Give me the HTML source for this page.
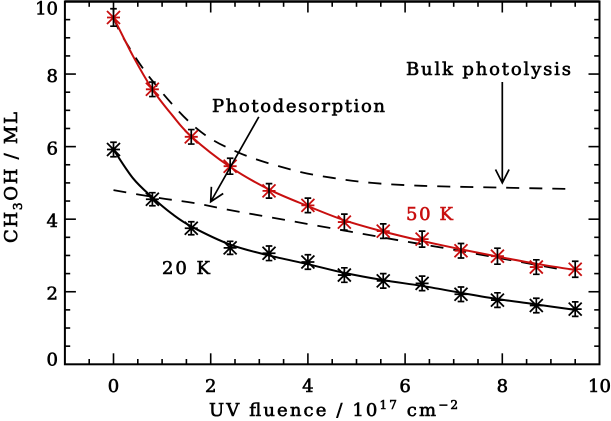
<!DOCTYPE html>
<html lang="en">
<head>
<meta charset="utf-8">
<title>CH3OH vs UV fluence</title>
<style>
html,body{margin:0;padding:0;background:#fff;width:611px;height:421px;overflow:hidden}
svg{display:block}
text{font-family:"DejaVu Serif","Liberation Serif",serif;fill:#000;stroke:#000;stroke-width:.6px}
</style>
</head>
<body>
<svg id="chart" xmlns="http://www.w3.org/2000/svg" width="611" height="421" viewBox="0 0 611 421">
<g id="layer-grid"></g>
<g id="layer-lines"></g>
<g id="layer-text"></g>
</svg>
<script>
const xTickLabels = [0, 2, 4, 6, 8, 10];
const yTickLabels = [0, 2, 4, 6, 8, 10];
const fluence = [0, 0.8, 1.6, 2.4, 3.2, 4, 4.75, 5.55, 6.35, 7.15, 7.9, 8.7, 9.5];
const methanol50K = [9.56, 7.58, 6.27, 5.46, 4.78, 4.38, 3.92, 3.67, 3.45, 3.13, 2.98, 2.68, 2.62];
const methanol20K = [5.92, 4.55, 3.75, 3.21, 3.06, 2.82, 2.46, 2.3, 2.23, 1.93, 1.77, 1.62, 1.52];
const error50K = [0.24, 0.2, 0.2, 0.22, 0.2, 0.2, 0.22, 0.2, 0.22, 0.2, 0.22, 0.2, 0.22];
const error20K = [0.2, 0.18, 0.18, 0.18, 0.2, 0.2, 0.2, 0.2, 0.2, 0.2, 0.2, 0.2, 0.2];
const fitFluence = [0, 0.4, 0.8, 1.2, 1.6, 2.4, 3.2, 4, 4.75, 5.55, 6.35, 7.15, 7.9, 8.7, 9.5];
const fit50K = [9.56, 8.5, 7.58, 6.88, 6.28, 5.44, 4.82, 4.36, 3.97, 3.66, 3.4, 3.17, 2.97, 2.77, 2.6];
const fit20K = [5.92, 5.13, 4.6, 4.15, 3.8, 3.3, 3.0, 2.76, 2.52, 2.32, 2.16, 1.97, 1.8, 1.65, 1.5];
const bulkX = [0, 0.2, 0.79, 1.71, 2.6, 3.7, 4.5, 5.32, 6.34, 7.99, 9.5];
const bulkY = [9.56, 9.0, 7.83, 6.5, 5.82, 5.35, 5.14, 5.0, 4.92, 4.87, 4.83];
const desorbX = [0, 0.96, 1.64, 2.4, 3.57, 4.9, 5.86, 6.82, 8.05, 9.15];
const desorbY = [4.8, 4.58, 4.45, 4.25, 3.97, 3.65, 3.42, 3.2, 2.9, 2.63];

const NS = 'http://www.w3.org/2000/svg';
const X0 = 113.5, XU = 48.6, Y0 = 364.3, YU = 36.28;
const sx = v => X0 + XU * v;
const sy = v => Y0 - YU * v;
const grid = document.getElementById('layer-grid');
const lines = document.getElementById('layer-lines');
const texts = document.getElementById('layer-text');

function mk(tag, parent, attrs) {
  const el = document.createElementNS(NS, tag);
  for (const k in attrs) el.setAttribute(k, attrs[k]);
  parent.appendChild(el);
  return el;
}
function smooth(xs, ys) {
  const p = xs.map((x, i) => [sx(x), sy(ys[i])]);
  let d = 'M' + p[0][0] + ' ' + p[0][1];
  for (let i = 0; i < p.length - 1; i++) {
    const a = p[Math.max(i - 1, 0)], b = p[i], c = p[i + 1], e = p[Math.min(i + 2, p.length - 1)];
    d += ' C' + (b[0] + (c[0] - a[0]) / 6) + ' ' + (b[1] + (c[1] - a[1]) / 6) + ' ' +
      (c[0] - (e[0] - b[0]) / 6) + ' ' + (c[1] - (e[1] - b[1]) / 6) + ' ' + c[0] + ' ' + c[1];
  }
  return d;
}

/* frame */
const frame = mk('rect', grid, {x: sx(-1), y: sy(10), width: XU * 11, height: YU * 10, fill: 'none', stroke: '#000', 'stroke-width': 2});


const frameTop = mk('line', grid, {x1: sx(-1), x2: sx(10), y1: sy(10), y2: sy(10), stroke: '#000', 'stroke-width': 2.4});



/* ticks */
for (let i = -2; i <= 20; i++) {
  const v = i / 2, len = i % 4 === 0 ? 11 : 5.3, w = 1.6;
  if (v > -1 && v < 10) {
    const b = mk('line', grid, {x1: sx(v), x2: sx(v), y1: Y0, y2: Y0 - len, stroke: '#000', 'stroke-width': w});
    
    
    const t = mk('line', grid, {x1: sx(v), x2: sx(v), y1: sy(10), y2: sy(10) + len, stroke: '#000', 'stroke-width': w});
    
    
  }
}
for (let i = 1; i <= 19; i++) {
  const v = i / 2, len = i % 4 === 0 ? 11 : 5.3, w = 1.6;
  const l = mk('line', grid, {x1: sx(-1), x2: sx(-1) + len, y1: sy(v), y2: sy(v), stroke: '#000', 'stroke-width': w});
  
  
  const r = mk('line', grid, {x1: sx(10), x2: sx(10) - len, y1: sy(v), y2: sy(v), stroke: '#000', 'stroke-width': w});
  
  
}
xTickLabels.forEach(v => {
  const t = mk('text', texts, {x: sx(v), y: 392, 'text-anchor': 'middle', 'font-size': 18});
  t.textContent = v;
  
  
});
yTickLabels.forEach((v, i) => {
  const off = i === 0 ? 1 : (i === yTickLabels.length - 1 ? 13 : 8);
  const t = mk('text', texts, {x: 58, y: sy(v) + off, 'text-anchor': 'end', 'font-size': 18});
  t.textContent = v;
  
  
});

/* dashed guides */
const bulkLine = mk('path', lines, {d: smooth(bulkX, bulkY), fill: 'none', stroke: '#000', 'stroke-width': 1.8, 'stroke-dasharray': '13 10'});


const desorbLine = mk('path', lines, {d: smooth(desorbX, desorbY), fill: 'none', stroke: '#000', 'stroke-width': 1.8, 'stroke-dasharray': '13 10'});



/* series */
function drawSeries(name, color, fitY, values, errs) {
  const fit = mk('path', lines, {d: smooth(fitFluence, fitY), fill: 'none', stroke: color, 'stroke-width': 2});
  
  
  fluence.forEach((x, i) => {
    const px = sx(x), py = sy(values[i]), top = sy(values[i] + errs[i]), bot = sy(values[i] - errs[i]);
    const g = mk('g', lines, {});
    
    
    const r = 6.5, dy = 6.5;
    mk('path', g, {d: 'M' + (px - r) + ' ' + py + 'H' + (px + r) +
      'M' + (px - r) + ' ' + (py - dy) + 'L' + (px + r) + ' ' + (py + dy) +
      'M' + (px - r) + ' ' + (py + dy) + 'L' + (px + r) + ' ' + (py - dy),
      fill: 'none', stroke: color, 'stroke-width': 1.8});
    mk('path', g, {d: 'M' + px + ' ' + top + 'V' + bot +
      'M' + (px - 3.3) + ' ' + top + 'H' + (px + 3.3) +
      'M' + (px - 3.3) + ' ' + bot + 'H' + (px + 3.3),
      fill: 'none', stroke: '#000', 'stroke-width': 1.7});
  });
}
drawSeries('series-20k', '#000', fit20K, methanol20K, error20K);
drawSeries('series-50k', '#c80f0f', fit50K, methanol50K, error50K);

/* arrows */
function arrow(name, x1, y1, x2, y2) {
  const a = Math.atan2(y2 - y1, x2 - x1), h = 15, s = 0.47;
  const p = mk('path', lines, {d: 'M' + x1 + ' ' + y1 + 'L' + x2 + ' ' + y2 +
    'M' + (x2 - h * Math.cos(a - s)) + ' ' + (y2 - h * Math.sin(a - s)) + 'L' + x2 + ' ' + y2 +
    'L' + (x2 - h * Math.cos(a + s)) + ' ' + (y2 - h * Math.sin(a + s)),
    fill: 'none', stroke: '#000', 'stroke-width': 1.7});
  
  
}
arrow('photodesorption-arrow', sx(2.99), sy(6.82), sx(2.0), sy(4.48));
arrow('bulk-photolysis-arrow', sx(8), sy(7.78), sx(8), sy(5.0));

/* labels */
function label(name, str, x, y, len, color) {
  const t = mk('text', texts, {x: x, y: y, 'font-size': 18, textLength: len, lengthAdjust: 'spacing'});
  t.textContent = str;
  
  
  if (color) { t.style.fill = color; t.style.stroke = color; }
  return t;
}
label('photodesorption-label', 'Photodesorption', 212, 112, 173);
label('bulk-photolysis-label', 'Bulk photolysis', 406, 75, 165);
label('label-50k', '50 K', 406, 220, 47, '#c80f0f');
label('label-20k', '20 K', 162, 274, 48);

/* x axis title */
const xt = mk('text', texts, {x: 209, y: 416, 'font-size': 18, textLength: 249, lengthAdjust: 'spacing'});


xt.innerHTML = 'UV fluence / 10<tspan dy="-7" font-size="12">17</tspan><tspan dy="7"> cm</tspan><tspan dy="-7" font-size="12">−2</tspan>';

/* y axis title */
const yt = mk('text', texts, {transform: 'translate(17 243) rotate(-90)', x: 0, y: 0, 'font-size': 18, textLength: 131, lengthAdjust: 'spacing'});


yt.innerHTML = 'CH<tspan dy="5" font-size="12">3</tspan><tspan dy="-5">OH / ML</tspan>';
</script>
</body>
</html>
